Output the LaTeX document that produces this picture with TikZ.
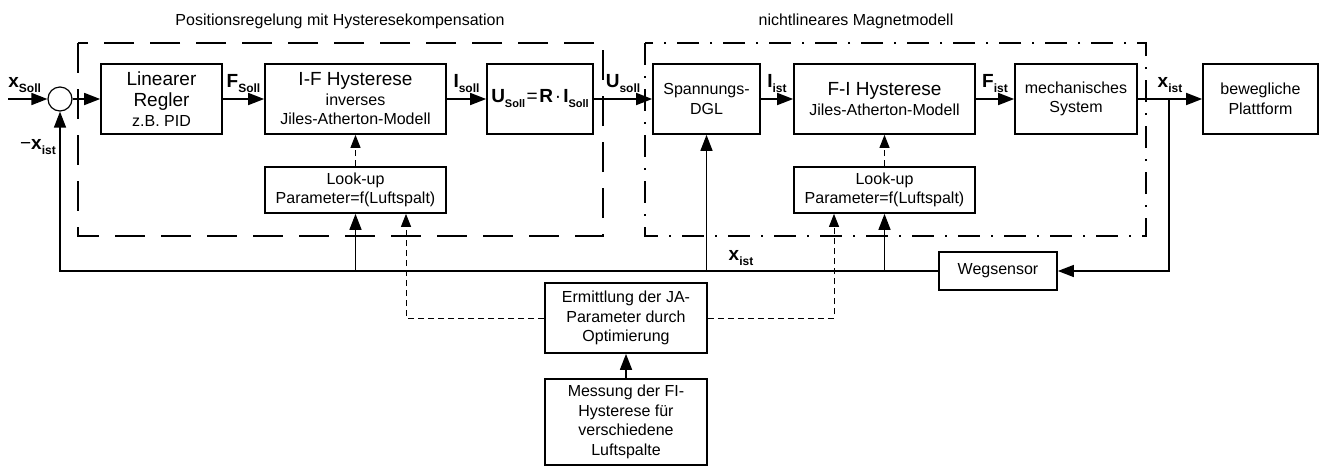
\documentclass[tikz,border=0pt]{standalone}
\usepackage{fontspec}
\setmainfont{Liberation Sans}
\usetikzlibrary{arrows.meta}
\newcommand\fsn{\fontsize{16}{19.5}\selectfont}
\newcommand\fsl{\fontsize{19}{22}\selectfont}
\newcommand\sig[2]{{\fontsize{19}{20}\selectfont\bfseries #1}\raisebox{-5pt}{\fontsize{12}{12}\selectfont\bfseries #2}}
\newcommand\sigs[2]{{\fontsize{19}{20}\selectfont\bfseries #1}\raisebox{-5pt}{\fontsize{11}{12}\selectfont\bfseries #2}}
\begin{document}
\begin{tikzpicture}[x=1pt,y=-1pt,
  box/.style={draw, line width=1.7pt, inner sep=0pt, align=center, font=\fsn},
  tip/.style={-{Triangle[length=16pt,width=12pt]}},
  sigline/.style={line width=1.7pt, tip},
  fbline/.style={line width=1.4pt},
  dsh/.style={line width=1pt, dash pattern=on 6pt off 4pt},
  dtip/.style={-{Triangle[length=13pt,width=10pt]}},
  lab/.style={above=6pt, inner sep=0pt},
  frameA/.style={line width=1.7pt, dash pattern=on 30pt off 16pt},
  frameB/.style={line width=1.7pt, dash pattern=on 22pt off 11pt on 2pt off 11pt}
]
\useasboundingbox (0,0) rectangle (1324,467);

% titles
\node[font=\fsn] (t1) at (340,21) {Positionsregelung mit Hysteresekompensation};
\node[font=\fsn] (t2) at (856,21) {nichtlineares Magnetmodell};

% frames
\draw[frameA] (78,43) rectangle (603,236);
\draw[frameB] (645,43) rectangle (1146,236);

% blocks
\node[circle, draw, line width=1.2pt, minimum size=24pt, inner sep=0pt] (sum) at (60,99) {};
\node[box, minimum width=121pt, minimum height=70pt] (reg) at (161.5,99)
  {{\fsl Linearer}\\[2pt]{\fsl Regler}\\z.B. PID};
\node[box, minimum width=181pt, minimum height=70pt] (ifh) at (355.5,99)
  {{\fsl I-F Hysterese}\\inverses\\Jiles-Atherton-Modell};
\node[box, minimum width=106pt, minimum height=70pt] (ubox) at (540,99)
  {\sigs{U}{Soll}\hspace{1.5pt}{\fontsize{19}{20}\selectfont =\hspace{1.5pt}\textbf{R}\hspace{2pt}·\hspace{2pt}}\sigs{I}{Soll}};
\node[box, minimum width=181pt, minimum height=46pt] (lu1) at (355.5,190)
  {Look-up\\Parameter=f(Luftspalt)};
\node[box, minimum width=107pt, minimum height=70pt] (dgl) at (706.5,99)
  {Spannungs-\\DGL};
\node[box, minimum width=181pt, minimum height=70pt] (fih) at (884.5,99)
  {{\fsl F-I Hysterese}\\Jiles-Atherton-Modell};
\node[box, minimum width=181pt, minimum height=46pt] (lu2) at (884.5,190)
  {Look-up\\Parameter=f(Luftspalt)};
\node[box, minimum width=122pt, minimum height=70pt] (mech) at (1076,99)
  {mechanisches\\System};
\node[box, minimum width=115pt, minimum height=70pt] (plat) at (1260.5,99)
  {bewegliche\\Plattform};
\node[box, minimum width=118pt, minimum height=38pt] (weg) at (998,271)
  {Wegsensor};
\node[box, minimum width=162pt, minimum height=70pt] (erm) at (626,318)
  {Ermittlung der JA-\\Parameter durch\\Optimierung};
\node[box, minimum width=162pt, minimum height=86pt] (mess) at (626,422)
  {Messung der FI-\\Hysterese für\\verschiedene\\Luftspalte};

% forward path
\coordinate (in) at (8,99);
\draw[sigline] (in) -- node[lab, xshift=-3pt]{\sig{x}{Soll}} (sum);
\draw[sigline] (sum) -- (reg);
\draw[sigline] (reg) -- node[lab]{\sig{F}{Soll}} (ifh);
\draw[sigline] (ifh) -- node[lab]{\sig{I}{soll}} (ubox);
\draw[sigline] (ubox) -- node[lab]{\sig{U}{soll}} (dgl);
\draw[sigline] (dgl) -- node[lab]{\sig{I}{ist}} (fih);
\draw[sigline] (fih) -- node[lab]{\sig{F}{ist}} (mech);
\draw[sigline] (mech) -- node[lab]{\sig{x}{ist}} (plat);

% feedback
\coordinate (j1) at (1169,99);
\coordinate (j2) at (1169,271);
\coordinate (c1) at (60,271);
\coordinate (k1) at (355.5,271);
\coordinate (k2) at (706.5,271);
\coordinate (k3) at (884.5,271);
\draw[fbline, tip] (j1) -- (j2) -- (weg);
\draw[fbline, tip] (weg) -- (c1) -- (sum);
\draw[fbline, tip] (k1) -- (lu1);
\draw[fbline, tip] (k2) -- (dgl);
\draw[fbline, tip] (k3) -- (lu2);
\node[inner sep=0pt, anchor=south] (xist) at (741,266) {\sig{x}{ist}};
\node[inner sep=0pt, anchor=east] (mxist) at (56,147) {{\fontsize{19}{20}\selectfont −}\sig{x}{ist}};

% look-up to hysteresis (dashed)
\draw[dsh, dtip] (lu1) -- (ifh);
\draw[dsh, dtip] (lu2) -- (fih);

% parameter identification
\coordinate (d1) at (406,318);
\coordinate (d2) at (834,318);
\draw[dsh, dtip] (erm) -- (d1) -- (d1 |- lu1.south);
\draw[dsh, dtip] (erm) -- (d2) -- (d2 |- lu2.south);
\draw[sigline] (mess) -- (erm);
\end{tikzpicture}
\end{document}
